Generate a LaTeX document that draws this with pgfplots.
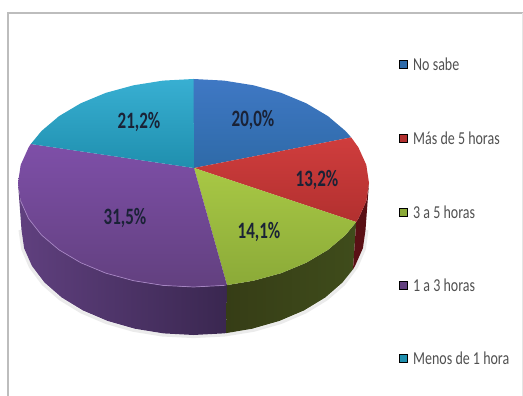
\documentclass[border=0pt]{standalone}
\usepackage{pgfplots}
\pgfplotsset{compat=1.18}
\usepackage{fontspec}
\setmainfont{Carlito}

% Slice colours: top face (upper/lower tone) and rim (left/right tone)
\definecolor{blueA}{HTML}{3F78C4}\definecolor{blueB}{HTML}{2E6AA8}
\definecolor{redA}{HTML}{CF3D3D}\definecolor{redB}{HTML}{B2302F}
\definecolor{greenA}{HTML}{A8C845}\definecolor{greenB}{HTML}{8BAA38}
\definecolor{violetA}{HTML}{7E4FA8}\definecolor{violetB}{HTML}{62407F}
\definecolor{cyanA}{HTML}{38AFD2}\definecolor{cyanB}{HTML}{1F8FAE}
\definecolor{rimVioletA}{HTML}{60407F}\definecolor{rimVioletB}{HTML}{3A2750}
\definecolor{rimGreenA}{HTML}{363D16}\definecolor{rimGreenB}{HTML}{3F4C1B}
\definecolor{rimRed}{HTML}{5A1015}
\definecolor{frameGrey}{HTML}{BDBDBD}
\definecolor{labelInk}{HTML}{1A2236}
\definecolor{keyInk}{HTML}{505050}

\newcommand{\pct}[1]{\scalebox{1}[1.38]{\fontsize{17}{17}\selectfont\bfseries #1}}
\newcommand{\key}[1]{\scalebox{1}[1.3]{\fontsize{14}{14}\selectfont\textcolor{keyInk}{#1}}}

\begin{document}
\begin{tikzpicture}
\useasboundingbox (0,0) rectangle (523pt,396pt);
\begin{axis}[
  at={(0,0)}, anchor=south west,
  scale only axis, width=523pt, height=396pt,
  xmin=0, xmax=523, ymin=0, ymax=396,
  y dir=reverse, hide axis, clip=false,
]
% frame of the chart area
\addplot[frameGrey, line width=2pt] coordinates {(7.5,396) (7.5,13) (523,13)};
\addplot[black!10, line width=0.8pt] coordinates {(522,13) (522,396)};

% soft shadow under the disc
\addplot[black!8, line width=3pt] coordinates {
 (20,230) (22.6,249) (30.4,267) (43,284) (60.2,299) (81.4,312) (106,322.5) (133.2,330.3)
 (162.1,335) (193.5,336.6) (224.9,335) (253.8,330.3) (281,322.5) (305.6,312) (326.8,299)
 (344,284) (356.6,267) (364.4,249) (367,230)};

% rim of the disc
\addplot[draw=none, left color=rimVioletA, right color=rimVioletB] coordinates {
 (18,183) (20.7,201.1) (28.6,218.6) (41.5,235) (59.1,249.9) (80.7,262.7) (105.7,273.1)
 (133.5,280.7) (163,285.4) (193.5,287) (224,285.4) (227,285.1)
 (226.3,333.1) (223.4,333.4) (193.5,335) (163.6,333.4) (134.7,328.7) (107.5,320.9)
 (82.9,310.4) (61.7,297.5) (44.5,282.5) (31.9,265.9) (24.1,248.2) (21.5,230)} --cycle;
\addplot[draw=none, left color=rimGreenA, right color=rimGreenB] coordinates {
 (227,285.1) (253.5,280.7) (281.3,273.1) (306.3,262.7) (327.9,249.9) (345.5,235) (356.2,222)
 (353,269.3) (342.5,282.5) (325.3,297.5) (304.1,310.4) (279.5,320.9) (252.3,328.7) (226.3,333.1)} --cycle;
\addplot[draw=none, fill=rimRed] coordinates {
 (356.2,222) (358.4,218.6) (366.3,201.1) (369,183)
 (365.5,230) (362.9,248.2) (355.1,265.9) (353,269.3)} --cycle;

% top faces of the slices: No sabe 20,0 / Mas de 5 horas 13,2 / 3 a 5 horas 14,1 /
% 1 a 3 horas 31,5 / Menos de 1 hora 21,2
\addplot[draw=none, top color=blueA, bottom color=blueB] coordinates {
 (194,168) (193.5,79) (224,80.6) (253.5,85.3) (281.3,92.9) (306.3,103.3) (327.9,116.1)
 (345.5,131) (351.2,137.4)} --cycle;
\addplot[draw=none, top color=redA, bottom color=redB] coordinates {
 (194,168) (351.2,137.4) (358.4,147.4) (366.3,164.9) (369,183) (366.3,201.1) (358.4,218.6)
 (356.2,222)} --cycle;
\addplot[draw=none, top color=greenA, bottom color=greenB] coordinates {
 (194,168) (356.2,222) (345.5,235) (327.9,249.9) (306.3,262.7) (281.3,273.1) (253.5,280.7)
 (227,285.1)} --cycle;
\addplot[draw=none, top color=violetA, bottom color=violetB] coordinates {
 (194,168) (227,285.1) (224,285.4) (193.5,287) (163,285.4) (133.5,280.7) (105.7,273.1)
 (80.7,262.7) (59.1,249.9) (41.5,235) (28.6,218.6) (20.7,201.1) (18,183) (20.7,164.9)
 (28.6,147.4) (30.8,144)} --cycle;
\addplot[draw=none, top color=cyanA, bottom color=cyanB] coordinates {
 (194,168) (30.8,144) (41.5,131) (59.1,116.1) (80.7,103.3) (105.7,92.9) (133.5,85.3)
 (163,80.6) (193.5,79)} --cycle;

% light edge along the front of the violet slice
\addplot[violetA!70!white, line width=0.7pt] coordinates {
 (20.7,201.1) (28.6,218.6) (41.5,235) (59.1,249.9) (80.7,262.7) (105.7,273.1)
 (133.5,280.7) (163,285.4) (193.5,287) (224,285.4)};

% percentage labels
\node[text=labelInk] at (axis cs:253,120) {\pct{20,0\%}};
\node[text=labelInk] at (axis cs:317,180) {\pct{13,2\%}};
\node[text=labelInk] at (axis cs:259,232) {\pct{14,1\%}};
\node[text=labelInk] at (axis cs:125,218) {\pct{31,5\%}};
\node[text=labelInk] at (axis cs:139,122) {\pct{21,2\%}};

% legend keys and entries
\addplot[only marks, mark=square*, mark size=3.8pt, mark options={draw=none, fill=blueB}] coordinates {(403,64)};
\addplot[only marks, mark=square*, mark size=3.8pt, mark options={draw=none, fill=redB}] coordinates {(403,138)};
\addplot[only marks, mark=square*, mark size=3.8pt, mark options={draw=none, fill=greenB}] coordinates {(403,212)};
\addplot[only marks, mark=square*, mark size=3.8pt, mark options={draw=none, fill=violetB}] coordinates {(403,285)};
\addplot[only marks, mark=square*, mark size=3.8pt, mark options={draw=none, fill=cyanB}] coordinates {(403,358)};
\node[anchor=west, inner sep=0pt] at (axis cs:413,64) {\key{No sabe}};
\node[anchor=west, inner sep=0pt] at (axis cs:413,138) {\key{Más de 5 horas}};
\node[anchor=west, inner sep=0pt] at (axis cs:413,212) {\key{3 a 5 horas}};
\node[anchor=west, inner sep=0pt] at (axis cs:413,285) {\key{1 a 3 horas}};
\node[anchor=west, inner sep=0pt] at (axis cs:413,358) {\key{Menos de 1 hora}};
\end{axis}
\end{tikzpicture}
\end{document}
